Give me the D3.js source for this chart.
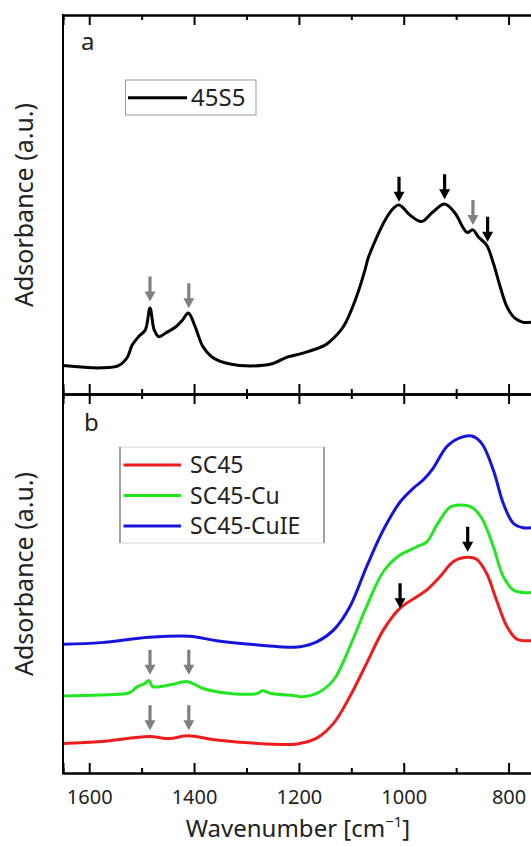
<!DOCTYPE html>
<html>
<head>
<meta charset="utf-8">
<script src="https://cdn.jsdelivr.net/npm/d3@7"></script>
<style>
  html, body { margin: 0; padding: 0; background: #fff; }
  svg { display: block; font-family: "Noto Sans", "Open Sans", sans-serif; }
</style>
</head>
<body>
<svg id="chart" width="531" height="846"></svg>
<script>
// ---------- DATA ----------
const majorTicks = [1600, 1400, 1200, 1000, 800];
const minorTicks = [1500, 1300, 1100, 900, 700];
const xDomain = [1650, 700];

// Panel a: 45S5
const wn45S5 = [1650, 1577, 1544, 1528, 1518, 1506, 1493, 1484, 1476, 1467, 1454, 1434, 1422, 1411, 1399, 1383, 1363, 1331, 1292, 1253, 1221, 1189, 1150, 1141, 1115, 1090, 1074, 1068, 1058, 1039, 1023, 1009, 988, 966, 944, 922, 902, 886, 879, 868, 858, 842, 829, 816, 803, 788, 772, 757, 740];
const abs45S5 = [0.075, 0.069, 0.075, 0.095, 0.129, 0.151, 0.169, 0.227, 0.169, 0.151, 0.161, 0.178, 0.195, 0.214, 0.182, 0.125, 0.095, 0.079, 0.074, 0.079, 0.098, 0.109, 0.129, 0.138, 0.178, 0.257, 0.327, 0.358, 0.393, 0.450, 0.485, 0.499, 0.472, 0.455, 0.481, 0.501, 0.477, 0.437, 0.426, 0.433, 0.415, 0.393, 0.345, 0.283, 0.230, 0.200, 0.189, 0.189, 0.189];

// Panel b
const wnSC45 = [1650, 1577, 1486, 1447, 1412, 1357, 1279, 1208, 1198, 1166, 1134, 1103, 1071, 1039, 1007, 975, 956, 931, 905, 880, 861, 842, 823, 803, 784, 757, 740];
const absSC45 = [0.078, 0.083, 0.096, 0.091, 0.098, 0.087, 0.078, 0.076, 0.078, 0.092, 0.131, 0.201, 0.289, 0.377, 0.435, 0.465, 0.483, 0.518, 0.558, 0.569, 0.564, 0.527, 0.456, 0.386, 0.353, 0.349, 0.349];

const wnSC45Cu = [1650, 1577, 1531, 1520, 1508, 1495, 1486, 1479, 1447, 1412, 1383, 1331, 1279, 1270, 1253, 1202, 1198, 1166, 1134, 1103, 1071, 1039, 1007, 975, 956, 937, 912, 892, 870, 851, 829, 810, 791, 772, 757, 740];
const absSC45Cu = [0.203, 0.206, 0.209, 0.214, 0.228, 0.235, 0.244, 0.228, 0.232, 0.241, 0.223, 0.210, 0.210, 0.217, 0.210, 0.203, 0.201, 0.210, 0.245, 0.333, 0.439, 0.531, 0.575, 0.597, 0.610, 0.654, 0.701, 0.707, 0.701, 0.672, 0.597, 0.518, 0.483, 0.476, 0.476, 0.476];

const wnSC45CuIE = [1650, 1577, 1486, 1409, 1357, 1279, 1215, 1198, 1166, 1134, 1103, 1071, 1039, 1007, 982, 963, 944, 918, 892, 870, 851, 829, 810, 791, 772, 757, 740];
const absSC45CuIE = [0.340, 0.344, 0.358, 0.361, 0.349, 0.338, 0.332, 0.333, 0.346, 0.377, 0.438, 0.544, 0.641, 0.715, 0.751, 0.773, 0.804, 0.861, 0.885, 0.889, 0.869, 0.799, 0.711, 0.659, 0.647, 0.647, 0.647];

const seriesB = ["SC45", "SC45-Cu", "SC45-CuIE"];
const seriesA = ["45S5"];

// arrow tips [wavenumber, absorbance]
const arrowsABlack = [[1009, 0.507], [922, 0.514], [840, 0.402]];
const arrowsAGray = [[1484, 0.244], [1410, 0.226], [868, 0.446]];
const arrowsBBlack = [[1007, 0.435], [878, 0.584]];
const arrowsBGray = [[1484, 0.259], [1410, 0.259], [1484, 0.113], [1410, 0.113]];

const labelX = "Wavenumber [cm";
const labelY = "Adsorbance (a.u.)";
const panelLabels = ["a", "b"];

// ---------- STYLE / LAYOUT ----------
const colorsB = ["#ee1c1c", "#22e622", "#1414dc"];
const gray = "#808080";
const left = 63, right = 561;
const topA = 15, mid = 394, botB = 773;

const svg = d3.select("#chart");
svg.append("rect").attr("width", 531).attr("height", 846).attr("fill", "#fff");

const x = d3.scaleLinear().domain(xDomain).range([left, right]);
const yA = d3.scaleLinear().domain([0, 1]).range([mid, topA]);
const yB = d3.scaleLinear().domain([0, 1]).range([botB, mid]);

const line = (ys) => d3.line()
  .x(d => x(d[0])).y(d => ys(d[1]))
  .curve(d3.curveCatmullRom.alpha(0.5));

const zip = (a, b) => a.map((v, i) => [v, b[i]]);

// curves
svg.append("path").datum(zip(wn45S5, abs45S5))
  .attr("d", line(yA)).attr("fill", "none").attr("stroke", "#000")
  .attr("stroke-width", 3).attr("stroke-linejoin", "round");

[[wnSC45, absSC45], [wnSC45Cu, absSC45Cu], [wnSC45CuIE, absSC45CuIE]].forEach((s, i) => {
  svg.append("path").datum(zip(s[0], s[1]))
    .attr("d", line(yB)).attr("fill", "none").attr("stroke", colorsB[i])
    .attr("stroke-width", 3).attr("stroke-linejoin", "round");
});

// arrows
function arrow(px, py, color) {
  const L = 25, h = 10, hw = 5.5, sw = 1.6;
  const p = `M${px - sw},${py - L} L${px + sw},${py - L} L${px + sw},${py - h} L${px + hw},${py - h} L${px},${py} L${px - hw},${py - h} L${px - sw},${py - h} Z`;
  svg.append("path").attr("d", p).attr("fill", color);
}
arrowsABlack.forEach(d => arrow(x(d[0]), yA(d[1]), "#000"));
arrowsAGray.forEach(d => arrow(x(d[0]), yA(d[1]), gray));
arrowsBBlack.forEach(d => arrow(x(d[0]), yB(d[1]), "#000"));
arrowsBGray.forEach(d => arrow(x(d[0]), yB(d[1]), gray));

// frames
const frame = svg.append("g").attr("stroke", "#000").attr("stroke-width", 2).attr("fill", "none");
frame.append("line").attr("x1", left).attr("x2", left).attr("y1", topA - 1).attr("y2", botB + 1);
frame.append("line").attr("x1", right).attr("x2", right).attr("y1", topA).attr("y2", botB);

function ticks(yPos, orient, size, values) {
  const ax = (orient === "bottom" ? d3.axisBottom(x) : d3.axisTop(x))
    .tickValues(values).tickSize(size).tickFormat("");
  const g = svg.append("g").attr("transform", `translate(0,${yPos})`).call(ax);
  g.selectAll("path.domain").attr("stroke-width", 2).attr("stroke", "#000");
  g.selectAll(".tick line").attr("stroke-width", 2).attr("stroke", "#000");
  return g;
}
// top of panel a (inward = down)
ticks(topA, "bottom", 10, majorTicks);
ticks(topA, "bottom", 5, minorTicks);
// middle border (both sides)
ticks(mid, "top", 10, majorTicks);
ticks(mid, "top", 5, minorTicks);
ticks(mid, "bottom", 10, majorTicks);
ticks(mid, "bottom", 5, minorTicks);
// bottom of panel b (inward = up)
ticks(botB, "top", 10, majorTicks);
ticks(botB, "top", 5, minorTicks);

// tick labels
const lab = svg.append("g").attr("transform", `translate(0,${botB})`)
  .call(d3.axisBottom(x).tickValues(majorTicks).tickSize(0).tickPadding(0).tickFormat(d3.format("d")));
lab.select("path.domain").remove();
lab.selectAll("text").attr("y", 31).attr("dy", 0)
  .attr("font-size", 20).attr("font-family", "'Noto Sans', sans-serif").attr("fill", "#222");

// axis titles
const xt = svg.append("text").attr("x", 298).attr("y", 837).attr("text-anchor", "middle")
  .attr("font-size", 24).attr("fill", "#222");
xt.append("tspan").text(labelX);
xt.append("tspan").attr("font-size", 15).attr("dy", -10).text("\u22121");
xt.append("tspan").attr("dy", 10).text("]");

[[205], [574]].forEach((c) => {
  svg.append("text").attr("transform", `translate(33,${c[0]}) rotate(-90)`)
    .attr("text-anchor", "middle").attr("font-size", 25).attr("fill", "#222").text(labelY);
});

// panel labels
svg.append("text").attr("x", 81).attr("y", 50).attr("font-size", 24).attr("fill", "#222").text(panelLabels[0]);
svg.append("text").attr("x", 84).attr("y", 431).attr("font-size", 24).attr("fill", "#222").text(panelLabels[1]);

// legend a
const la = svg.append("g");
la.append("rect").attr("x", 125.5).attr("y", 80).attr("width", 130.5).attr("height", 35)
  .attr("fill", "#fff").attr("stroke", "#999").attr("stroke-width", 1);
la.append("line").attr("x1", 128).attr("x2", 187).attr("y1", 97.7).attr("y2", 97.7)
  .attr("stroke", "#000").attr("stroke-width", 3);
la.append("text").attr("x", 191).attr("y", 106).attr("font-size", 24).attr("fill", "#222").text(seriesA[0]);

// legend b
const lb = svg.append("g");
lb.append("rect").attr("x", 120).attr("y", 447).attr("width", 204).attr("height", 96)
  .attr("fill", "#fff").attr("stroke", "#d4d4d4").attr("stroke-width", 1);
lb.append("line").attr("x1", 120).attr("x2", 120).attr("y1", 447).attr("y2", 543).attr("stroke", "#888").attr("stroke-width", 1.5);
lb.append("line").attr("x1", 324).attr("x2", 324).attr("y1", 447).attr("y2", 543).attr("stroke", "#888").attr("stroke-width", 1.5);
seriesB.forEach((s, i) => {
  const yy = 465 + i * 30.5;
  lb.append("line").attr("x1", 123.5).attr("x2", 181).attr("y1", yy).attr("y2", yy)
    .attr("stroke", colorsB[i]).attr("stroke-width", 3);
  lb.append("text").attr("x", 190).attr("y", yy + 8).attr("font-size", 23).attr("fill", "#222").text(s);
});
</script>
</body>
</html>
